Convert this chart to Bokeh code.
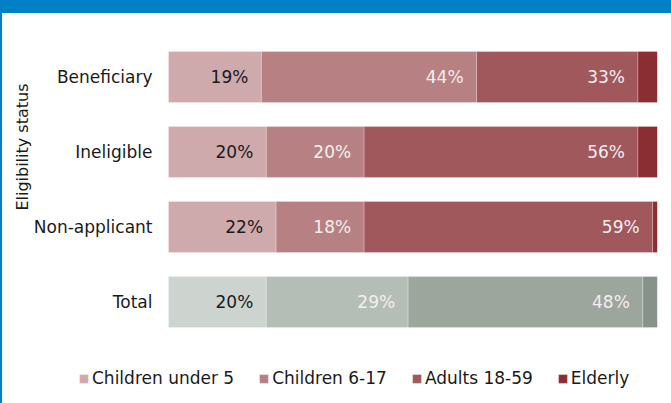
from bokeh.plotting import figure
from bokeh.models import (ColumnDataSource, Range1d, Legend, LegendItem,
                          LabelSet, FixedTicker, Title)
from bokeh.embed import file_html
from bokeh.resources import INLINE
from bokeh.core.properties import value

# ---- data ----
categories = ["Beneficiary", "Ineligible", "Non-applicant", "Total"]
series_names = ["Children under 5", "Children 6-17", "Adults 18-59", "Elderly"]
under5 = [19, 20, 22, 20]
child617 = [44, 20, 18, 29]
adults = [33, 56, 59, 48]
elderly = [4, 4, 1, 3]

red_colors = ["#cfaaad", "#b78183", "#a0585c", "#8a2e34"]
gray_colors = ["#cdd3cf", "#b5beb6", "#9ca69d", "#87928a"]

FONT = "DejaVu Sans"

# category positions (top to bottom)
ypos = [len(categories) - 1 - i for i in range(len(categories))]

p = figure(width=671, height=403,
           y_range=Range1d(-1.3133, 3.5),
           x_range=Range1d(-20.04, 100),
           output_backend="svg", toolbar_location=None,
           min_border_left=68, min_border_right=16,
           min_border_top=26, min_border_bottom=16,
           styles={"border-top": "13px solid #0081c5",
                   "border-left": "2px solid #0081c5",
                   "overflow": "hidden"})
p.outline_line_color = None
p.background_fill_color = "white"
p.border_fill_color = "white"
p.grid.grid_line_color = None
p.xaxis.visible = False

yax = p.yaxis[0]
yax.ticker = FixedTicker(ticks=ypos)
yax.major_label_overrides = {y: c for y, c in zip(ypos, categories)}
yax.axis_line_color = None
yax.major_tick_line_color = None
yax.minor_tick_line_color = None
yax.major_label_text_font = FONT
yax.major_label_text_font_size = "17px"
yax.major_label_text_color = "#1a1a1a"
yax.major_label_standoff = -88

p.add_layout(Title(text="Eligibility status", align="right", offset=44, standoff=-2,
                   text_font=FONT, text_font_size="16px", text_font_style="normal",
                   text_color="#1a1a1a"), "left")

series = [under5, child617, adults, elderly]
renderers = []
left = [0] * len(categories)
for si, vals in enumerate(series):
    right = [l + v for l, v in zip(left, vals)]
    colors = [gray_colors[si] if c == "Total" else red_colors[si] for c in categories]
    texts = [f"{v}%" if si < 3 else "" for v in vals]
    label_colors = ["#1a1a1a" if si == 0 else "#f4eeee" for _ in vals]
    src = ColumnDataSource(dict(y=ypos, left=left, right=right, color=colors,
                                text=texts, tcolor=label_colors))
    r = p.hbar(y="y", left="left", right="right", height=0.68, source=src,
               fill_color="color", line_color="white", line_alpha=0.25, line_width=1)
    renderers.append(r)
    p.add_layout(LabelSet(x="right", y="y", text="text", source=src,
                          x_offset=-13, text_align="right", text_baseline="middle",
                          text_font=value(FONT), text_font_size="17px",
                          text_color="tcolor"))
    left = right

legend = Legend(items=[LegendItem(label=n, renderers=[r], index=0)
                       for n, r in zip(series_names, renderers)],
                orientation="horizontal", location=(8, 12),
                glyph_width=11, glyph_height=11, label_standoff=3, spacing=24,
                padding=0, margin=0, border_line_alpha=0, background_fill_alpha=0,
                label_text_font=FONT, label_text_font_size="17px",
                label_text_color="#1a1a1a")
p.add_layout(legend)

open("out.html", "w").write(file_html(p, INLINE))
